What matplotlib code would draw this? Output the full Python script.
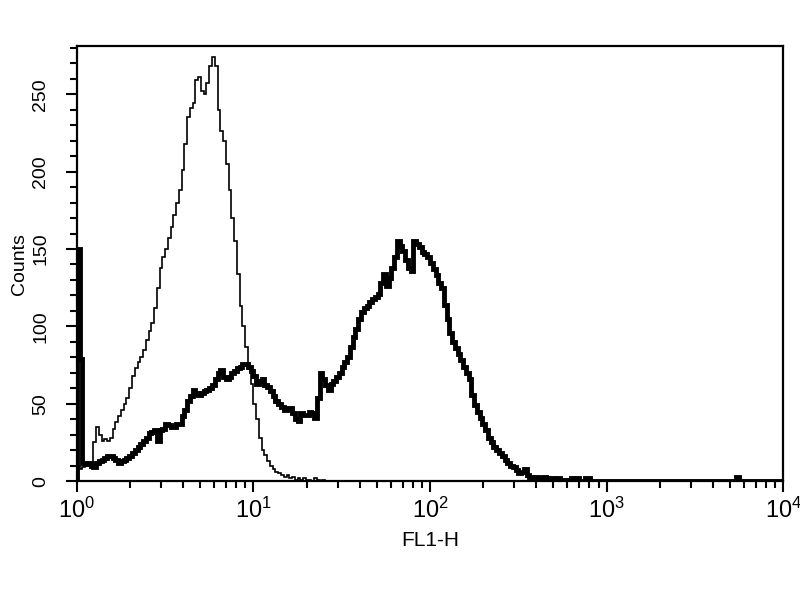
import numpy as np
import matplotlib
matplotlib.use("Agg")
import matplotlib.pyplot as plt
from matplotlib.ticker import LogLocator, MultipleLocator

plt.rcParams['font.family'] = ['Liberation Sans', 'DejaVu Sans']
plt.rcParams['mathtext.fontset'] = 'custom'
plt.rcParams['mathtext.rm'] = 'Liberation Sans'
plt.rcParams['mathtext.default'] = 'regular'

# 256 channels over 4 decades (FL1-H), counts
n_channels = 256
decades = 4

# control / isotype histogram (thin line), channels 0..90
control_counts = [10, 8, 9, 10, 11, 12, 25, 35, 30, 26, 27, 26, 28, 34, 38, 42,
                  46, 50, 54, 60, 68, 73, 77, 80, 85, 91, 97, 102, 112, 125, 138, 145,
                  150, 157, 164, 172, 180, 188, 201, 218, 235, 241, 244, 259, 261, 252, 250, 257,
                  268, 274, 268, 240, 226, 220, 205, 188, 170, 155, 134, 113, 100, 87, 74, 63,
                  50, 40, 28, 20, 17, 13, 10, 8, 6, 5, 4, 3, 4, 2, 3, 1,
                  2, 1, 2, 1, 1, 0, 2, 1, 0, 1, 0]

# stained sample histogram (thick line), channels 0..185
stained_counts = [150, 79, 12, 11, 12, 10, 9, 12, 13, 14, 15, 16, 16, 15, 14, 12,
                  13, 14, 15, 16, 18, 20, 22, 24, 26, 28, 31, 32, 33, 26, 33, 34,
                  37, 36, 35, 35, 37, 37, 42, 46, 52, 55, 59, 57, 56, 57, 58, 59,
                  60, 62, 66, 70, 72, 67, 66, 67, 70, 71, 73, 74, 76, 76, 74, 71,
                  68, 63, 65, 66, 62, 61, 58, 55, 52, 50, 48, 46, 47, 47, 44, 40,
                  39, 44, 43, 43, 45, 44, 41, 54, 70, 66, 62, 59, 63, 65, 67, 70,
                  74, 77, 80, 87, 93, 98, 105, 109, 112, 113, 116, 118, 119, 121, 128, 134,
                  126, 131, 138, 145, 155, 152, 149, 143, 138, 136, 155, 153, 151, 148, 147, 145,
                  141, 137, 133, 128, 125, 114, 105, 96, 90, 86, 82, 78, 74, 70, 66, 56,
                  49, 45, 41, 37, 33, 28, 25, 22, 20, 18, 16, 14, 12, 10, 9, 7,
                  5, 6, 8, 4, 3, 2, 3, 2, 2, 3, 2, 1, 2, 1, 2, 1,
                  1, 0, 1, 2, 0, 2, 0, 0, 2, 2]
stained_far_channels = [239]
stained_far_counts = [3]

x_ticks = [1, 10, 100, 1000, 10000]
y_ticks = [0, 50, 100, 150, 200, 250]
y_top = 281

edges = 10 ** (np.arange(n_channels + 1) * decades / n_channels)
control = np.zeros(n_channels)
control[:len(control_counts)] = control_counts
stained = np.zeros(n_channels)
stained[:len(stained_counts)] = stained_counts
stained[stained_far_channels] = stained_far_counts

fig = plt.figure(figsize=(8, 6), dpi=100, facecolor='white')
ax = fig.add_axes([0.096, 0.198, 0.883, 0.725])

ax.stairs(control, edges, color='black', linewidth=1.2)
ax.stairs(stained, edges, color='black', linewidth=3.5)

ax.set_xscale('log')
ax.set_xlim(1, 10000)
ax.set_ylim(0, y_top)
ax.set_xticks(x_ticks)
ax.xaxis.set_minor_locator(LogLocator(base=10, subs=np.arange(2, 10)))
ax.set_yticks(y_ticks)
ax.yaxis.set_minor_locator(MultipleLocator(10))

for s in ax.spines.values():
    s.set_linewidth(1.6)

ax.tick_params(which='major', direction='out', length=8, width=1.5, colors='black')
ax.tick_params(which='minor', direction='out', length=5, width=1.5)
ax.tick_params(axis='x', which='major', labelsize=17, pad=4)
ax.tick_params(axis='y', which='major', labelsize=14, pad=12)
for lab in ax.get_yticklabels():
    lab.set_rotation(90)
    lab.set_va('center')

ax.set_xlabel('FL1-H', fontsize=15, labelpad=6)
ax.set_ylabel('Counts', fontsize=14, labelpad=3)

fig.savefig('out.png', dpi=100, facecolor='white')
